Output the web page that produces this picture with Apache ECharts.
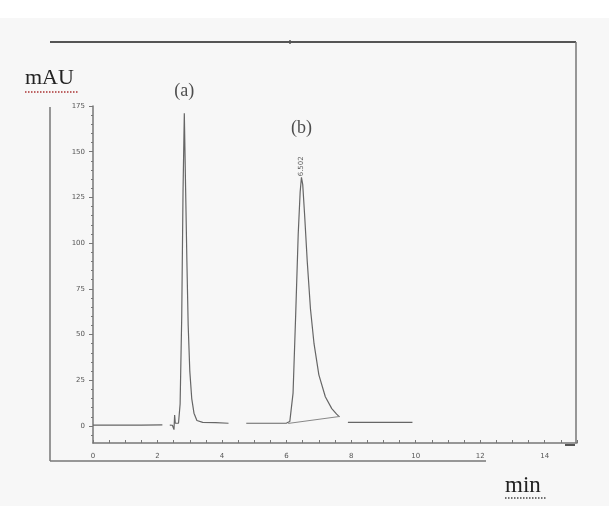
<!DOCTYPE html>
<html><head><meta charset="utf-8">
<script src="https://cdn.jsdelivr.net/npm/echarts@6/dist/echarts.min.js"></script>
<style>html,body{margin:0;padding:0;background:#f7f7f7}#c{width:609px;height:506px}</style>
</head><body><div id="c"></div>
<script>
// chromatogram trace (min, mAU); null = gap in the printed trace
const traceTime = [0, 0.5, 1.0, 1.5, 2.15, 2.27, 2.38, 2.46, 2.51, 2.53, 2.55, 2.6, 2.65, 2.7, 2.75, 2.79, 2.83, 2.87, 2.91, 2.95, 3.0, 3.06, 3.13, 3.22, 3.4, 3.8, 4.2, 4.5, 4.75, 5.2, 5.6, 6.0, 6.1, 6.2, 6.28, 6.36, 6.42, 6.46, 6.5, 6.56, 6.64, 6.74, 6.85, 7.0, 7.2, 7.4, 7.55, 7.64, 7.77, 7.9, 8.5, 9.2, 9.9];
const traceSignal = [0.5, 0.5, 0.5, 0.5, 0.6, null, 0.5, 0.4, -2, 6, 1.5, 1.3, 1.5, 12, 60, 128, 171, 130, 90, 55, 30, 15, 7, 3, 2, 1.8, 1.5, null, 1.5, 1.5, 1.5, 1.6, 2.5, 18, 60, 105, 128, 136, 132, 115, 90, 64, 45, 28, 16, 9.5, 6.5, 5, null, 2, 2, 2, 2];
// drawn integration baseline under peak (b)
const baselineTime = [6.05, 7.64];
const baselineSignal = [1.4, 5.2];
// peak annotations
const peakTimes = [2.83, 6.46];
const peakHeights = [171, 136];
const peakNames = ['(a)', '(b)'];
const peakRetention = ['', '6.502'];
// axis ticks
const yTickValues = [0, 25, 50, 75, 100, 125, 150, 175];
const xTickValues = [0, 2, 4, 6, 8, 10, 12, 14];

const yMinor = []; for (let v = -5; v <= 175; v += 5) yMinor.push(v);
const xMinor = []; for (let v = 0; v <= 15; v += 0.5) xMinor.push(v);

const gray = '#777';
const tickFont = {fontSize: 7, color: '#555', fontFamily: 'DejaVu Sans'};
const serif = 'Liberation Serif';

const chart = echarts.init(document.getElementById('c'));
chart.setOption({
  backgroundColor: '#f7f7f7',
  animation: false,
  grid: {left: 93, right: 32, top: 106, bottom: 63},
  xAxis: {
    type: 'value', min: 0, max: 15,
    axisLine: {show: true, onZero: false, lineStyle: {color: gray, width: 1.5}},
    axisTick: {show: true, customValues: xMinor, length: 3, inside: true, lineStyle: {color: gray}},
    axisLabel: {customValues: xTickValues, margin: 10, ...tickFont},
    splitLine: {show: false}
  },
  yAxis: [{
    type: 'value', min: -9.3, max: 175,
    axisLine: {show: true, onZero: false, lineStyle: {color: gray, width: 1.5}},
    axisTick: {show: true, customValues: yTickValues, length: 4, lineStyle: {color: gray}},
    axisLabel: {customValues: yTickValues, margin: 8, ...tickFont},
    splitLine: {show: false}
  }, {
    type: 'value', min: -9.3, max: 175, position: 'left',
    axisLine: {show: false, onZero: false},
    axisTick: {show: true, customValues: yMinor, length: 2, lineStyle: {color: gray}},
    axisLabel: {show: false},
    splitLine: {show: false}
  }],
  series: [{
    type: 'line', symbol: 'none', connectNulls: false,
    data: traceTime.map((t, i) => [t, traceSignal[i] === null ? '-' : traceSignal[i]]),
    lineStyle: {color: '#666', width: 1.2}
  }, {
    type: 'line', symbol: 'none',
    data: baselineTime.map((t, i) => [t, baselineSignal[i]]),
    lineStyle: {color: '#888', width: 1}
  }, {
    type: 'scatter', symbolSize: 0,
    data: peakTimes.map((t, i) => ({
      value: [t, peakHeights[i]],
      label: {show: true, formatter: peakNames[i], position: 'top', distance: i === 0 ? 13 : 40,
        fontFamily: serif, fontSize: 18, color: '#222'}
    }))
  }, {
    type: 'scatter', symbolSize: 0,
    data: peakTimes.map((t, i) => ({
      value: [t, peakHeights[i]],
      label: {show: peakRetention[i] !== '', formatter: peakRetention[i], position: 'top', distance: 1,
        rotate: 90, align: 'left', verticalAlign: 'middle', fontSize: 7, color: '#333', fontFamily: 'DejaVu Sans'}
    }))
  }],
  graphic: [
    {type: 'rect', left: 0, top: 0, shape: {width: 609, height: 18}, style: {fill: '#fff'}, z: -10},
    {type: 'line', shape: {x1: 50, y1: 42, x2: 576, y2: 42}, style: {stroke: '#555', lineWidth: 2}},
    {type: 'line', shape: {x1: 290, y1: 40, x2: 290, y2: 44}, style: {stroke: '#555', lineWidth: 1.5}},
    {type: 'line', shape: {x1: 576, y1: 42, x2: 576, y2: 443}, style: {stroke: gray, lineWidth: 1.5}},
    {type: 'line', shape: {x1: 50, y1: 107, x2: 50, y2: 461}, style: {stroke: gray, lineWidth: 1.5}},
    {type: 'line', shape: {x1: 50, y1: 461, x2: 486, y2: 461}, style: {stroke: gray, lineWidth: 1.5}},
    {type: 'line', shape: {x1: 565, y1: 445, x2: 575, y2: 445}, style: {stroke: '#555', lineWidth: 2}},
    {type: 'text', left: 25, top: 67, style: {text: 'mAU', font: '22px "Liberation Serif"', fill: '#222'}},
    {type: 'line', shape: {x1: 25, y1: 92, x2: 79, y2: 92}, style: {stroke: '#a33', lineWidth: 1.5, lineDash: [1.5, 1.5]}},
    {type: 'text', left: 505, top: 474, style: {text: 'min', font: '23px "Liberation Serif"', fill: '#222'}},
    {type: 'line', shape: {x1: 505, y1: 498, x2: 546, y2: 498}, style: {stroke: '#444', lineWidth: 1.5, lineDash: [1.5, 1.5]}}
  ]
});
</script></body></html>
